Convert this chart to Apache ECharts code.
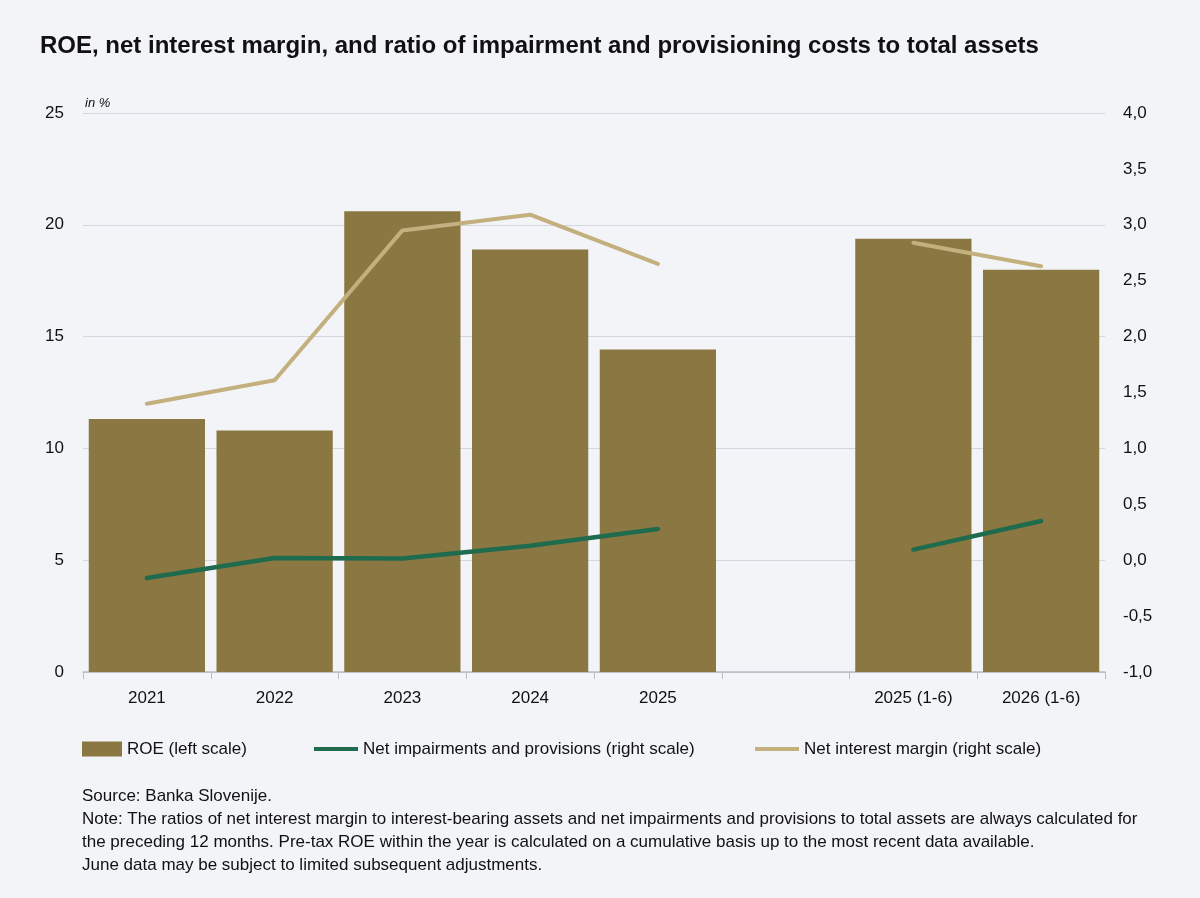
<!DOCTYPE html>
<html>
<head>
<meta charset="utf-8">
<script src="https://cdn.jsdelivr.net/npm/echarts@6/dist/echarts.min.js"></script>
<style>
  html, body { margin: 0; padding: 0; background: #f2f4f8; }
  #chart { width: 1200px; height: 898px; }
</style>
</head>
<body>
<div id="chart"></div>
<script>
// categories (empty slot separates annual and half-year data)
const categories = ['2021', '2022', '2023', '2024', '2025', '', '2025 (1-6)', '2026 (1-6)'];
const roe = [11.31, 10.8, 20.61, 18.9, 14.42, '-', 19.38, 17.99];
const netImpairments = [-0.16, 0.02, 0.015, 0.13, 0.28, '-', 0.095, 0.35];
const netInterestMargin = [1.40, 1.61, 2.95, 3.09, 2.65, '-', 2.84, 2.63];

const leftTicks = { min: 0, max: 25, interval: 5 };
const rightTicks = { min: -1, max: 4, interval: 0.5 };

const FONT = '"Liberation Sans Narrow", "Liberation Sans", Arial, sans-serif';
const C_BAR = '#8b7741';
const C_GREEN = '#1f6b4e';
const C_NIM = '#c4b07e';

const chart = echarts.init(document.getElementById('chart'));

const legendText = { color: '#111', fontSize: 17, fontFamily: FONT, lineHeight: 18 };

chart.setOption({
    backgroundColor: '#f2f4f8',
    textStyle: { fontFamily: FONT },
    title: [
        {
            text: 'ROE, net interest margin, and ratio of impairment and provisioning costs to total assets',
            left: 40, top: 34, padding: 0,
            textStyle: { fontSize: 24, fontWeight: 'bold', color: '#111', fontFamily: FONT }
        },
        {
            text: 'in %',
            left: 85, top: 97, padding: 0,
            textStyle: { fontSize: 13, fontStyle: 'italic', fontWeight: 'normal', color: '#111', fontFamily: FONT }
        },
        {
            text: 'Source: Banka Slovenije.\nNote: The ratios of net interest margin to interest-bearing assets and net impairments and provisions to total assets are always calculated for\nthe preceding 12 months. Pre-tax ROE within the year is calculated on a cumulative basis up to the most recent data available.\nJune data may be subject to limited subsequent adjustments.',
            left: 82, top: 785, padding: 0,
            textStyle: { fontSize: 17, fontWeight: 'normal', color: '#111', lineHeight: 23, fontFamily: FONT }
        }
    ],
    legend: [
        {
            data: [{ name: 'ROE (left scale)', icon: 'rect' }],
            left: 82, top: 740, padding: 0,
            itemWidth: 40, itemHeight: 15, itemGap: 8,
            textStyle: legendText
        },
        {
            data: [{ name: 'Net impairments and provisions (right scale)', icon: 'rect' }],
            left: 314, top: 740, padding: 0,
            itemWidth: 44, itemHeight: 4, itemGap: 2,
            textStyle: legendText
        },
        {
            data: [{ name: 'Net interest margin (right scale)', icon: 'rect' }],
            left: 755, top: 740, padding: 0,
            itemWidth: 44, itemHeight: 4, itemGap: 2,
            textStyle: legendText
        }
    ],
    grid: { left: 83, right: 95, top: 113, bottom: 226 },
    xAxis: {
        type: 'category',
        data: categories,
        axisLine: { lineStyle: { color: '#b9bcc2', width: 1.5 } },
        axisTick: { show: true, length: 7, lineStyle: { color: '#b9bcc2' } },
        axisLabel: { color: '#111', fontSize: 17, margin: 18, fontFamily: FONT }
    },
    yAxis: [
        {
            type: 'value',
            min: leftTicks.min, max: leftTicks.max, interval: leftTicks.interval,
            axisLine: { show: false },
            axisTick: { show: false },
            splitLine: { lineStyle: { color: '#d3d6dc', width: 1 } },
            axisLabel: { color: '#111', fontSize: 17, margin: 19, fontFamily: FONT }
        },
        {
            type: 'value',
            min: rightTicks.min, max: rightTicks.max, interval: rightTicks.interval,
            axisLine: { show: false },
            axisTick: { show: false },
            splitLine: { show: false },
            axisLabel: {
                color: '#111', fontSize: 17, margin: 18, fontFamily: FONT,
                formatter: v => v.toFixed(1).replace('.', ',')
            }
        }
    ],
    series: [
        {
            name: 'ROE (left scale)',
            type: 'bar',
            yAxisIndex: 0,
            data: roe,
            barCategoryGap: '9%',
            itemStyle: { color: C_BAR },
            silent: true
        },
        {
            name: 'Net impairments and provisions (right scale)',
            type: 'line',
            yAxisIndex: 1,
            data: netImpairments,
            symbol: 'none',
            lineStyle: { color: C_GREEN, width: 4.5, cap: 'round' },
            itemStyle: { color: C_GREEN },
            silent: true
        },
        {
            name: 'Net interest margin (right scale)',
            type: 'line',
            yAxisIndex: 1,
            data: netInterestMargin,
            symbol: 'none',
            lineStyle: { color: C_NIM, width: 4, cap: 'round' },
            itemStyle: { color: C_NIM },
            silent: true
        }
    ]
});
</script>
</body>
</html>
